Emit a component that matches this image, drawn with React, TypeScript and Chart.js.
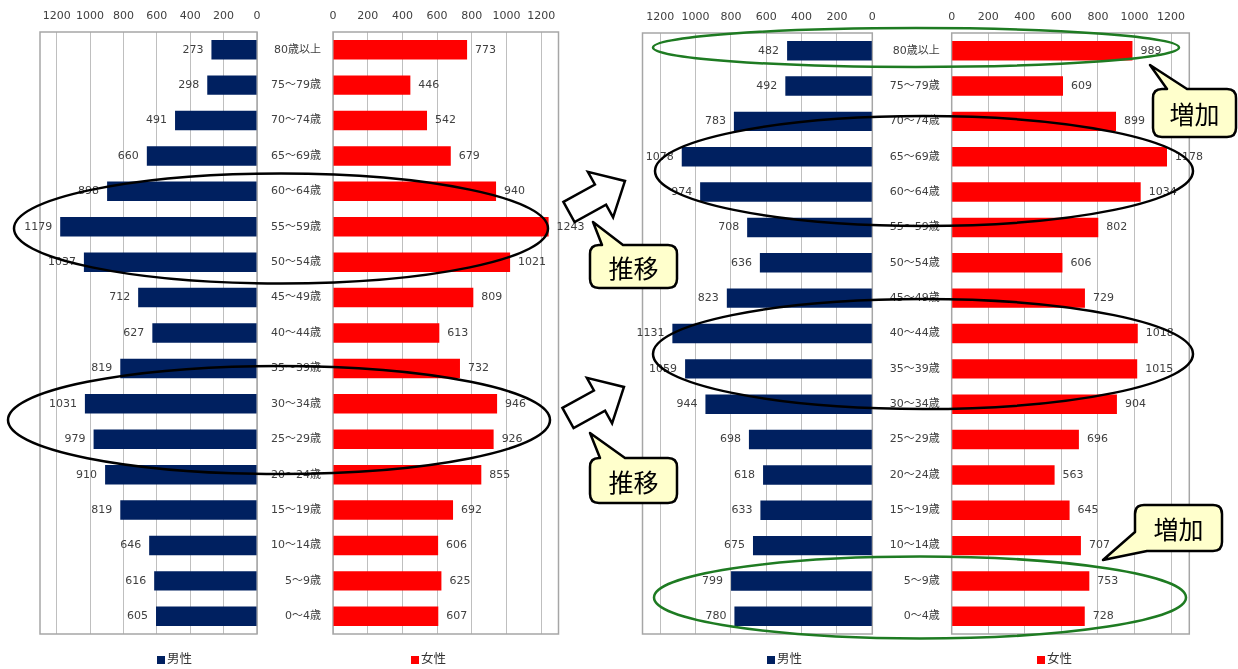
import React, { useEffect, useRef } from "react";
import { Chart, registerables } from "chart.js";

Chart.register(...registerables);

// ---------- data ----------
const categories = [
  "80歳以上", "75～79歳", "70～74歳", "65～69歳", "60～64歳", "55～59歳",
  "50～54歳", "45～49歳", "40～44歳", "35～39歳", "30～34歳", "25～29歳",
  "20～24歳", "15～19歳", "10～14歳", "5～9歳", "0～4歳",
];
const maleBefore = [273, 298, 491, 660, 898, 1179, 1037, 712, 627, 819, 1031, 979, 910, 819, 646, 616, 605];
const femaleBefore = [773, 446, 542, 679, 940, 1243, 1021, 809, 613, 732, 946, 926, 855, 692, 606, 625, 607];
const maleAfter = [482, 492, 783, 1078, 974, 708, 636, 823, 1131, 1059, 944, 698, 618, 633, 675, 799, 780];
const femaleAfter = [989, 609, 899, 1178, 1034, 802, 606, 729, 1018, 1015, 904, 696, 563, 645, 707, 753, 728];
const valueTicks = [0, 200, 400, 600, 800, 1000, 1200];
const valueMax = 1300;
const seriesNames = ["男性", "女性"];
const seriesColors = ["#002060", "#FF0000"];

const FONT = "'DejaVu Sans', 'Noto Sans CJK JP', sans-serif";
const W = 1238;
const H = 669;

type HalfSpec = {
  id: string;
  left: number;
  width: number;
  areaL: number;
  areaR: number;
  areaT: number;
  areaB: number;
  male: boolean;
  values: number[];
  legendX: number;
};

const halves: HalfSpec[] = [
  { id: "lm", left: 0, width: 275, areaL: 40, areaR: 257, areaT: 32, areaB: 634, male: true, values: maleBefore, legendX: 157 },
  { id: "lf", left: 257, width: 343, areaL: 333, areaR: 558.5, areaT: 32, areaB: 634, male: false, values: femaleBefore, legendX: 411 },
  { id: "rm", left: 600, width: 290, areaL: 642.5, areaR: 872.3, areaT: 33, areaB: 634, male: true, values: maleAfter, legendX: 767 },
  { id: "rf", left: 872, width: 366, areaL: 951.7, areaR: 1189.3, areaT: 33, areaB: 634, male: false, values: femaleAfter, legendX: 1037 },
];

function HalfChart({ spec }: { spec: HalfSpec }) {
  const ref = useRef<HTMLCanvasElement>(null);
  useEffect(() => {
    const canvas = ref.current!;
    const si = spec.male ? 0 : 1;
    const color = seriesColors[si];
    const label = seriesNames[si];
    const padLeft = spec.male ? spec.areaL - spec.left : 0;
    const yAxisW = spec.male ? 0 : spec.areaL - spec.left;
    const padRight = spec.left + spec.width - spec.areaR;

    const decor = {
      id: "decor_" + spec.id,
      beforeDatasetsDraw(chart: any) {
        const { ctx, chartArea: a } = chart;
        ctx.save();
        ctx.strokeStyle = "#A6A6A6";
        ctx.lineWidth = 1.5;
        ctx.strokeRect(a.left, a.top, a.right - a.left, a.bottom - a.top);
        ctx.restore();
      },
      afterDatasetsDraw(chart: any) {
        const { ctx } = chart;
        const meta = chart.getDatasetMeta(0);
        const vals = chart.data.datasets[0].data as number[];
        ctx.save();
        ctx.font = `11px ${FONT}`;
        ctx.fillStyle = "#404040";
        ctx.textBaseline = "middle";
        meta.data.forEach((bar: any, i: number) => {
          const v = vals[i];
          if (spec.male) {
            ctx.textAlign = "right";
            ctx.fillText(String(v), bar.x - 8, bar.y);
          } else {
            ctx.textAlign = "left";
            ctx.fillText(String(v), bar.x + 8, bar.y);
          }
        });
        // legend
        const lx = spec.legendX - spec.left;
        const ly = 660;
        ctx.fillStyle = color;
        ctx.fillRect(lx, ly - 4, 8, 8);
        ctx.fillStyle = "#333333";
        ctx.textAlign = "left";
        ctx.font = `12.5px ${FONT}`;
        ctx.fillText(label, lx + 10, ly);
        ctx.restore();
      },
    };

    const chart = new Chart(canvas, {
      type: "bar",
      data: {
        labels: categories,
        datasets: [
          {
            label,
            data: spec.values,
            backgroundColor: color,
            borderWidth: 0,
            barPercentage: 0.55,
            categoryPercentage: 1,
          },
        ],
      },
      options: {
        indexAxis: "y",
        responsive: false,
        animation: false,
        devicePixelRatio: 1,
        layout: { padding: { left: padLeft, right: padRight, top: 0, bottom: H - spec.areaB } },
        plugins: { legend: { display: false }, tooltip: { enabled: false } },
        scales: {
          x: {
            type: "linear",
            position: "top",
            reverse: spec.male,
            min: 0,
            max: valueMax,
            afterBuildTicks: (s: any) => {
              s.ticks = valueTicks.map((v) => ({ value: v }));
            },
            afterFit: (s: any) => {
              s.height = spec.areaT;
            },
            grid: { color: "#BFBFBF", lineWidth: 1, drawTicks: false },
            border: { display: false },
            ticks: {
              padding: 9,
              color: "#404040",
              font: { family: FONT, size: 11 },
              maxRotation: 0,
              minRotation: 0,
              autoSkip: false,
              callback: (v: any) => String(v),
            },
          },
          y: {
            type: "category",
            position: "left",
            display: !spec.male,
            afterFit: (s: any) => {
              s.width = yAxisW;
            },
            grid: { display: false, drawTicks: false },
            border: { display: false },
            ticks: { padding: 12, color: "#404040", font: { family: FONT, size: 11 }, autoSkip: false },
          },
        },
      } as any,
      plugins: [decor],
    });
    return () => chart.destroy();
  }, [spec]);
  return (
    <canvas
      ref={ref}
      width={spec.width}
      height={H}
      style={{ position: "absolute", left: spec.left, top: 0, width: spec.width, height: H }}
    />
  );
}

const ellipses = [
  { cx: 281, cy: 228.5, rx: 267, ry: 55, c: "#000000" },
  { cx: 279, cy: 420, rx: 271, ry: 54, c: "#000000" },
  { cx: 916, cy: 47.5, rx: 263, ry: 19.5, c: "#1E7B22" },
  { cx: 924, cy: 171, ry: 55, rx: 269, c: "#000000" },
  { cx: 923, cy: 354, ry: 55, rx: 270, c: "#000000" },
  { cx: 920, cy: 597.5, rx: 266, ry: 41, c: "#1E7B22" },
];

const arrows = [
  { x: 569, y: 212 },
  { x: 568, y: 418 },
];

const callouts = [
  {
    d: "M 602 245 L 593 222 L 623 245 L 668 245 Q 677 245 677 254 L 677 279 Q 677 288 668 288 L 599 288 Q 590 288 590 279 L 590 254 Q 590 245 599 245 Z",
    tx: 633.5, ty: 266.5, text: "推移",
  },
  {
    d: "M 600 458 L 590 433 L 625 458 L 668 458 Q 677 458 677 467 L 677 494 Q 677 503 668 503 L 599 503 Q 590 503 590 494 L 590 467 Q 590 458 599 458 Z",
    tx: 633.5, ty: 480.5, text: "推移",
  },
  {
    d: "M 1167 89 L 1150 65 L 1187 89 L 1227 89 Q 1236 89 1236 98 L 1236 128 Q 1236 137 1227 137 L 1162 137 Q 1153 137 1153 128 L 1153 98 Q 1153 89 1162 89 Z",
    tx: 1194.5, ty: 113, text: "増加",
  },
  {
    d: "M 1144 505 L 1213 505 Q 1222 505 1222 514 L 1222 542 Q 1222 551 1213 551 L 1147 551 L 1103 560 L 1135 532 L 1135 514 Q 1135 505 1144 505 Z",
    tx: 1178.5, ty: 528, text: "増加",
  },
];

export default function App() {
  return (
    <div
      style={{
        position: "fixed",
        left: 0,
        top: 0,
        width: W,
        height: H,
        background: "#ffffff",
        overflow: "hidden",
      }}
    >
      {halves.map((h) => (
        <HalfChart key={h.id} spec={h} />
      ))}
      <svg
        width={W}
        height={H}
        style={{ position: "absolute", left: 0, top: 0, pointerEvents: "none" }}
      >
        {ellipses.map((e, i) => (
          <ellipse key={"e" + i} cx={e.cx} cy={e.cy} rx={e.rx} ry={e.ry} fill="none" stroke={e.c} strokeWidth={2.5} />
        ))}
        {arrows.map((a, i) => (
          <polygon
            key={"a" + i}
            points="0,-11.5 36,-11.5 36,-26 64,0 36,26 36,11.5 0,11.5"
            transform={`translate(${a.x},${a.y}) rotate(-29)`}
            fill="#ffffff"
            stroke="#000000"
            strokeWidth={2.5}
            strokeLinejoin="miter"
          />
        ))}
        {callouts.map((c, i) => (
          <g key={"c" + i}>
            <path d={c.d} fill="#FFFFCC" stroke="#000000" strokeWidth={2.5} strokeLinejoin="round" />
            <text
              x={c.tx}
              y={c.ty}
              textAnchor="middle"
              dominantBaseline="central"
              fontSize={25}
              fontFamily="'Noto Sans CJK JP', sans-serif"
              fill="#000000"
            >
              {c.text}
            </text>
          </g>
        ))}
      </svg>
    </div>
  );
}
